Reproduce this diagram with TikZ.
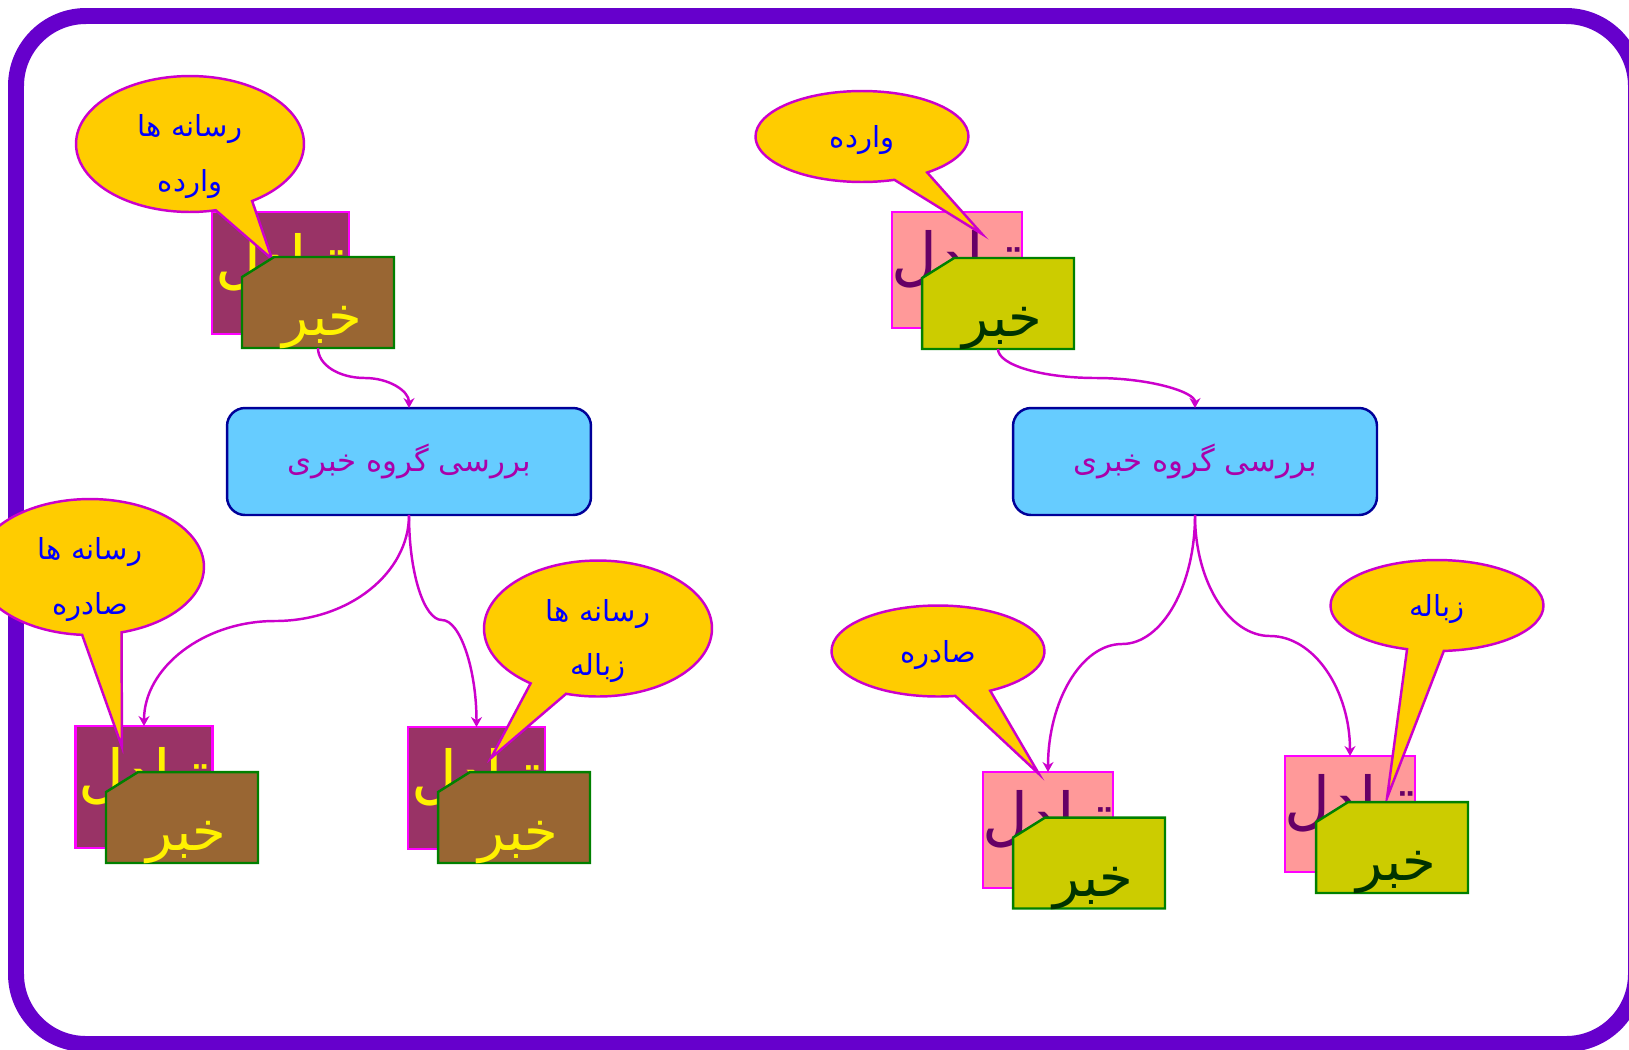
\documentclass[tikz,border=0pt]{standalone}
\usepackage{fontspec}
\usepackage{tikz}
\usetikzlibrary {arrows.meta}
\usetikzlibrary {shapes.callouts}
\usetikzlibrary {shapes.misc}
\newfontfamily\arabicfont[Script=Arabic]{DejaVu Sans}
\TeXXeTstate=1
\newcommand{\rtl}[1]{\beginR #1\endR}
\newcommand{\newstext}{\hspace*{5pt}\rtl{خبر}}
\definecolor{framecol}{HTML}{6600CC}
\definecolor{linecol}{HTML}{CC00CC}
\definecolor{bubblecol}{HTML}{FFCC00}
\definecolor{sheetline}{HTML}{FF00FF}
\definecolor{plumcol}{HTML}{993366}
\definecolor{pinkcol}{HTML}{FF9999}
\definecolor{browncol}{HTML}{996633}
\definecolor{olivecol}{HTML}{CCCC00}
\definecolor{newsline}{HTML}{008000}
\definecolor{groupcol}{HTML}{66CCFF}
\definecolor{groupline}{HTML}{000099}
\definecolor{grouptext}{HTML}{AA00AA}
\definecolor{darkgreen}{HTML}{003300}
\definecolor{darkplum}{HTML}{660066}
\begin{document}
\begin{tikzpicture} [x = 0.02cm, y = -0.02cm]
        %style
        \tikzset{bubble/.style = {shape=ellipse callout, draw=linecol, fill=bubblecol, line width=1.4pt, inner sep=0pt, outer sep=0pt, text=blue, align=center, callout pointer arc=20, font=\arabicfont\fontsize{16.5}{31}\selectfont}}
        \tikzset{bigbubble/.style = {bubble, text height=54pt, text depth=0pt, minimum width = 4.56cm, minimum height = 2.72cm}}
        \tikzset{smallbubble/.style = {bubble, text depth=0pt, minimum width = 4.26cm, minimum height = 1.82cm}}
        \tikzset{sheet/.style = {shape=rectangle, draw=sheetline, line width=1.4pt, inner sep=0pt, outer sep=0pt, text depth=18pt, font=\arabicfont\fontsize{36}{40}\selectfont}}
        \tikzset{sheetdark/.style = {sheet, fill=plumcol, text=yellow, minimum width = 2.74cm, minimum height = 2.44cm}}
        \tikzset{sheetpink/.style = {sheet, fill=pinkcol, text=darkplum, minimum width = 2.6cm, minimum height = 2.32cm}}
        \tikzset{news/.style = {shape=chamfered rectangle, chamfered rectangle corners=north west, chamfered rectangle xsep=0.48cm, chamfered rectangle angle=58, draw=newsline, line width=1.4pt, inner sep=0pt, outer sep=0pt, text height=40pt, text depth=2pt, minimum width = 3.04cm, minimum height = 1.82cm, font=\arabicfont\fontsize{31}{34}\selectfont}}
        \tikzset{newsdark/.style = {news, fill=browncol, text=yellow}}
        \tikzset{newspink/.style = {news, fill=olivecol, text=darkgreen}}
        \tikzset{group/.style = {shape=rectangle, rounded corners=0.36cm, draw=groupline, fill=groupcol, line width=1.4pt, inner sep=0pt, outer sep=0pt, text=grouptext, minimum width = 7.28cm, minimum height = 2.14cm, font=\arabicfont\fontsize{17.5}{20}\selectfont}}
        \tikzset{flow/.style = {draw=linecol, line width=1.4pt, -{Stealth[length=2mm, width=2.2mm]}}}
        \useasboundingbox (0,0) rectangle (1629,1049);
        \fill[white] (0,0) rectangle (1629,1049);
        \draw[framecol, line width=9.1pt, rounded corners=1.4cm] (16,16) rectangle (1636,1044);
        % left side
        \node[sheetdark]  (sheetA)  at (280.5,273) {\rtl{تبادل}};
        \node[bigbubble, callout absolute pointer={(272,259)}] (bubbleA) at (190,144) {\rtl{رسانه ها}\\\rtl{وارده}};
        \node[newsdark]   (newsA)   at (318,302.5) {\newstext};
        \node[group]      (groupL)  at (409,461.5) {\rtl{بررسی گروه خبری}};
        \node[sheetdark]  (sheetB)  at (144,787) {\rtl{تبادل}};
        \node[bigbubble, callout absolute pointer={(122,747)}] (bubbleB) at (90,567) {\rtl{رسانه ها}\\\rtl{صادره}};
        \node[newsdark]   (newsB)   at (182,817.5) {\newstext};
        \node[sheetdark]  (sheetC)  at (476.5,788) {\rtl{تبادل}};
        \node[bigbubble, callout absolute pointer={(491,758)}] (bubbleC) at (598,628.5) {\rtl{رسانه ها}\\\rtl{زباله}};
        \node[newsdark]   (newsC)   at (514,817.5) {\newstext};
        % right side
        \node[sheetpink]  (sheetD)  at (957,270) {\rtl{تبادل}};
        \node[smallbubble, callout absolute pointer={(982,234)}] (bubbleD) at (862,136.5) {\rtl{وارده}};
        \node[newspink]   (newsD)   at (998,303.5) {\newstext};
        \node[group]      (groupR)  at (1195,461.5) {\rtl{بررسی گروه خبری}};
        \node[sheetpink]  (sheetE)  at (1048,830) {\rtl{تبادل}};
        \node[smallbubble, callout absolute pointer={(1039,774)}] (bubbleE) at (938,651) {\rtl{صادره}};
        \node[newspink]   (newsE)   at (1089,863) {\newstext};
        \node[sheetpink]  (sheetF)  at (1350,814) {\rtl{تبادل}};
        \node[smallbubble, callout absolute pointer={(1387,798)}] (bubbleF) at (1437,605.5) {\rtl{زباله}};
        \node[newspink]   (newsF)   at (1392,847.5) {\newstext};
        % connectors
        \coordinate (midA) at (365,378);
        \coordinate (midB) at (275,621);
        \coordinate (midC) at (442,620);
        \coordinate (midD) at (1096,378);
        \coordinate (midE) at (1122,644);
        \coordinate (midF) at (1270,636);
        \draw [flow] (newsA.south) .. controls +(0,17) and +(-26,0) .. (midA) .. controls +(24,0) and +(0,-17) .. (groupL.north);
        \draw [flow] (groupL.south) .. controls +(0,58) and +(74,0) .. (midB) .. controls +(-72,0) and +(0,-58) .. (sheetB.north);
        \draw [flow] (groupL.south) .. controls +(0,58) and +(-18,0) .. (midC) .. controls +(18,0) and +(0,-58) .. (sheetC.north);
        \draw [flow] (newsD.south) .. controls +(0,16) and +(-54,0) .. (midD) .. controls +(54,0) and +(0,-16) .. (groupR.north);
        \draw [flow] (groupR.south) .. controls +(0,71) and +(40,0) .. (midE) .. controls +(-41,0) and +(0,-70) .. (sheetE.north);
        \draw [flow] (groupR.south) .. controls +(0,67) and +(-41,0) .. (midF) .. controls +(44,0) and +(0,-66) .. (sheetF.north);
\end{tikzpicture}
\end{document}
